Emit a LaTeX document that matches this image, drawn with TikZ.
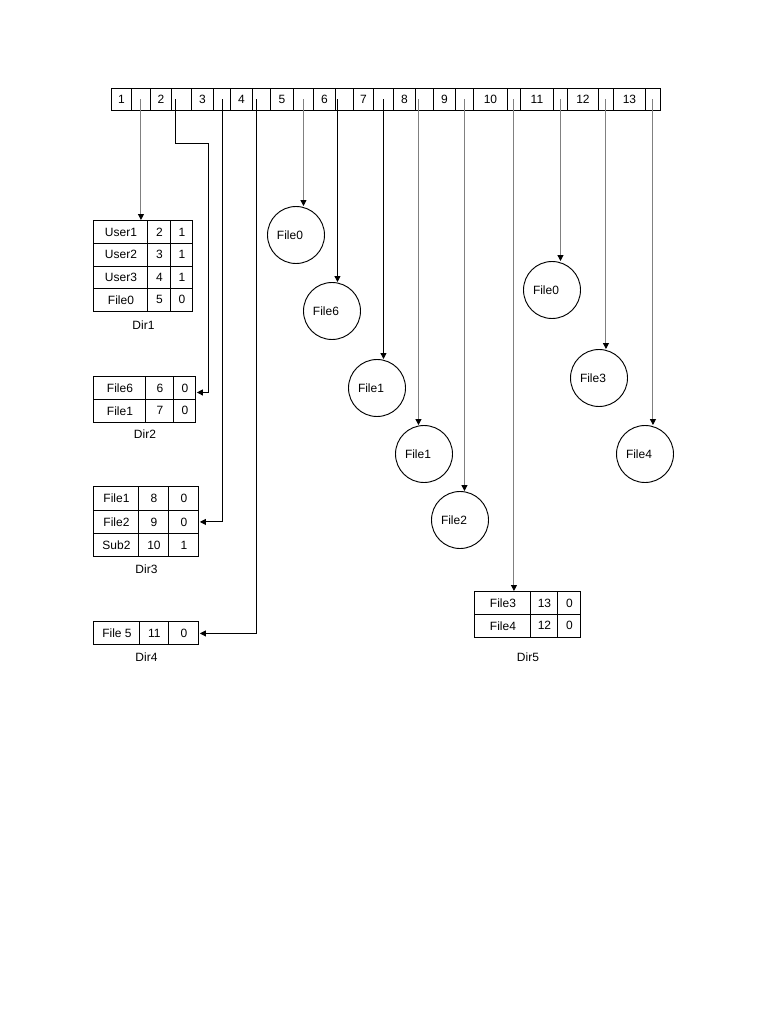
\documentclass[tikz,border=0pt]{standalone}
\usepackage{fontspec}
\setmainfont{Liberation Sans}
\usepackage{tikz}
\usetikzlibrary{arrows.meta, positioning, matrix}
\definecolor{ptrgray}{gray}{0.5}
\newcommand{\diafont}{\fontsize{9}{10}\selectfont}
\tikzset{
    cell/.style={rectangle, draw, inner sep=0pt, minimum height=16.5pt, anchor=north west, font=\diafont},
    dirtable/.style={matrix of nodes, inner sep=0pt, anchor=north west, column sep=-0.7pt, row sep=-0.7pt,
        nodes={rectangle, draw, inner sep=0pt, minimum height=16.9pt, anchor=center, font=\diafont}},
    filenode/.style={circle, draw, minimum size=42.75pt, inner sep=0pt, font=\diafont, execute at end node={\hspace*{9pt}}},
    dirlabel/.style={inner sep=0pt, font=\diafont},
    blackarrow/.style={-{Triangle[length=4.5pt, width=4.5pt]}, line width=0.7pt},
    grayarrow/.style={-{Triangle[length=4.5pt, width=4.5pt, color=black]}, line width=0.75pt, draw=ptrgray},
}

\begin{document}
\begin{tikzpicture}[x=0.75pt, y=-0.75pt, line width=0.7pt]
    \useasboundingbox (0,0) rectangle (768,1024);
    % the list of entries
    \foreach \n/\a/\b/\c in {1/111/131/150, 2/150/171/191, 3/191/213/230, 4/230/252/270,
        5/270/293/313, 6/313/335/353, 7/353/373/393, 8/393/415/433, 9/433/455/473,
        10/473/507/520, 11/520/553/567, 12/567/598/613, 13/613/645/660} {
        \node[cell, minimum width={(\b-\a)*0.75pt}] (n\n) at (\a,88) {\n};
        \node[cell, minimum width={(\c-\b)*0.75pt}] (p\n) at (\b,88) {};
    }
    \coordinate (s2) at ([xshift=-4.5pt]p2.center);
    \coordinate (s4) at ([xshift=-3.75pt]p4.center);
    \coordinate (s6) at ([xshift=-5.25pt]p6.center);
    \coordinate (s8) at ([xshift=-4.5pt]p8.center);

    % directories
    \matrix (dirone) [dirtable, column 1/.style={nodes={minimum width=40.5pt}},
        column 2/.style={nodes={minimum width=17.25pt}}, column 3/.style={nodes={minimum width=16.5pt}}] at (93,220) {
        User1 & 2 & 1 \\
        User2 & 3 & 1 \\
        User3 & 4 & 1 \\
        File0 & 5 & 0 \\
    };
    \node[dirlabel, below=6pt of dirone] (lblone) {Dir1};
    \matrix (dirtwo) [dirtable, column 1/.style={nodes={minimum width=39pt}},
        column 2/.style={nodes={minimum width=21pt}}, column 3/.style={nodes={minimum width=16.5pt}}] at (93,376) {
        File6 & 6 & 0 \\
        File1 & 7 & 0 \\
    };
    \node[dirlabel, below=4.5pt of dirtwo] (lbltwo) {Dir2};
    \matrix (dirthree) [dirtable, nodes={minimum height=17.5pt}, column 1/.style={nodes={minimum width=33.75pt}},
        column 2/.style={nodes={minimum width=22.5pt}}, column 3/.style={nodes={minimum width=22.5pt}}] at (93,486) {
        File1 & 8 & 0 \\
        File2 & 9 & 0 \\
        Sub2 & 10 & 1 \\
    };
    \node[dirlabel, below=5pt of dirthree] (lblthree) {Dir3};
    \matrix (dirfour) [dirtable, nodes={minimum height=17.25pt}, column 1/.style={nodes={minimum width=34.5pt}},
        column 2/.style={nodes={minimum width=21.75pt}}, column 3/.style={nodes={minimum width=22.5pt}}] at (93,621) {
        File 5 & 11 & 0 \\
    };
    \node[dirlabel, below=5pt of dirfour] (lblfour) {Dir4};
    \matrix (dirfive) [dirtable, column 1/.style={nodes={minimum width=42pt}},
        column 2/.style={nodes={minimum width=20.25pt}}, column 3/.style={nodes={minimum width=17.25pt}}] at (474,591) {
        File3 & 13 & 0 \\
        File4 & 12 & 0 \\
    };
    \node[dirlabel, below=10.5pt of dirfive] (lblfive) {Dir5};

    % files
    \node[filenode] (filezeroa) at (296,235) {File0};
    \node[filenode] (filesix) at (332,311) {File6};
    \node[filenode] (fileonea) at (377,388) {File1};
    \node[filenode] (fileoneb) at (424,454) {File1};
    \node[filenode] (filetwo) at (460,520) {File2};
    \node[filenode] (filezerob) at (552,290) {File0};
    \node[filenode] (filethree) at (599,378) {File3};
    \node[filenode] (filefour) at (645,454) {File4};

    % pointers
    \draw[grayarrow] (p1.center) -- (p1.center |- dirone.north);
    \coordinate (turn) at (208,143);
    \draw[blackarrow] (s2) |- (turn) |- ([yshift=5.25pt]dirtwo.east);
    \draw[blackarrow] (p3.center) |- (dirthree.east);
    \draw[blackarrow] (s4) |- (dirfour.east);
    \draw[grayarrow] (p5.center) -- (p5.center |- filezeroa.north);
    \draw[blackarrow] (s6) -- (s6 |- filesix.north);
    \draw[blackarrow] (p7.center) -- (p7.center |- fileonea.north);
    \draw[grayarrow] (s8) -- (s8 |- fileoneb.north);
    \draw[grayarrow] (p9.center) -- (p9.center |- filetwo.north);
    \draw[grayarrow] (p10.center) -- (p10.center |- dirfive.north);
    \draw[grayarrow] (p11.center) -- (p11.center |- filezerob.north);
    \draw[grayarrow] (p12.center) -- (p12.center |- filethree.north);
    \draw[grayarrow] (p13.center) -- (p13.center |- filefour.north);
\end{tikzpicture}
\end{document}
